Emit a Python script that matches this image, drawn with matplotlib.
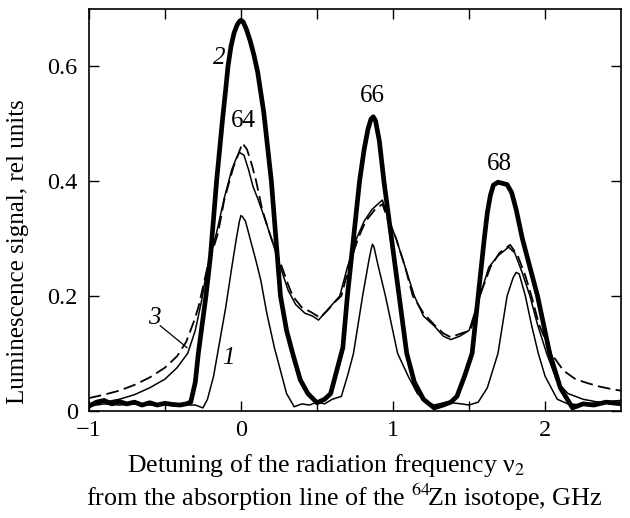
"""
Luminescence signal vs detuning of radiation frequency (Zn isotopes).
"""

import matplotlib
matplotlib.use('Agg')
import matplotlib.pyplot as plt

plt.rcParams['font.family'] = ['Liberation Serif', 'DejaVu Serif']
plt.rcParams['mathtext.fontset'] = 'stix'

# curve 1 - thin, narrow peaks
x1 = [-1.0, -0.9, -0.8, -0.7, -0.6, -0.5, -0.4, -0.3, -0.25, -0.22, -0.18, -0.14, -0.1,
      -0.06, -0.03, -0.01, 0.0, 0.01, 0.03, 0.07, 0.1, 0.13, 0.17, 0.22, 0.26, 0.3, 0.35,
      0.4, 0.45, 0.5, 0.55, 0.6, 0.66, 0.7, 0.74, 0.8, 0.84, 0.855, 0.865, 0.875, 0.9,
      0.95, 0.99, 1.03, 1.1, 1.16, 1.22, 1.27, 1.35, 1.45, 1.5, 1.56, 1.62, 1.69, 1.75,
      1.79, 1.81, 1.83, 1.87, 1.91, 1.955, 2.0, 2.08, 2.15, 2.25, 2.35, 2.5]
y1 = [0.008, 0.012, 0.01, 0.012, 0.01, 0.011, 0.01, 0.01, 0.005, 0.02, 0.06, 0.12, 0.18,
      0.25, 0.3, 0.33, 0.34, 0.338, 0.33, 0.29, 0.26, 0.228, 0.17, 0.11, 0.07, 0.03, 0.007,
      0.012, 0.01, 0.015, 0.012, 0.02, 0.025, 0.06, 0.1, 0.2, 0.26, 0.28, 0.29, 0.285,
      0.255, 0.2, 0.15, 0.1, 0.06, 0.03, 0.015, 0.01, 0.015, 0.012, 0.01, 0.015, 0.04, 0.1,
      0.2, 0.232, 0.241, 0.238, 0.2, 0.15, 0.1, 0.06, 0.02, 0.012, 0.01, 0.015, 0.012]

# curve 2 - thick
x2 = [-1.0, -0.95, -0.9, -0.85, -0.8, -0.75, -0.7, -0.65, -0.6, -0.55, -0.5, -0.45, -0.4,
      -0.36, -0.33, -0.3, -0.28, -0.25, -0.23, -0.2, -0.16, -0.12, -0.1, -0.085, -0.065,
      -0.045, -0.025, -0.01, 0.0, 0.015, 0.035, 0.06, 0.085, 0.11, 0.15, 0.2, 0.23, 0.26,
      0.3, 0.34, 0.39, 0.44, 0.5, 0.55, 0.59, 0.63, 0.67, 0.7, 0.74, 0.78, 0.81, 0.835,
      0.855, 0.87, 0.885, 0.91, 0.94, 0.99, 1.04, 1.09, 1.14, 1.2, 1.27, 1.33, 1.38, 1.42,
      1.47, 1.52, 1.56, 1.6, 1.62, 1.64, 1.66, 1.69, 1.72, 1.75, 1.78, 1.81, 1.85, 1.95,
      2.03, 2.1, 2.18, 2.25, 2.32, 2.4, 2.5]
y2 = [0.008, 0.015, 0.018, 0.012, 0.016, 0.012, 0.015, 0.01, 0.014, 0.01, 0.013, 0.011,
      0.01, 0.012, 0.015, 0.05, 0.1, 0.16, 0.2, 0.27, 0.4, 0.51, 0.56, 0.6, 0.635, 0.658,
      0.672, 0.678, 0.68, 0.677, 0.665, 0.645, 0.62, 0.59, 0.52, 0.4, 0.3, 0.2, 0.14, 0.1,
      0.054, 0.03, 0.014, 0.02, 0.03, 0.07, 0.11, 0.2, 0.3, 0.4, 0.455, 0.49, 0.508, 0.512,
      0.505, 0.47, 0.4, 0.3, 0.2, 0.1, 0.05, 0.02, 0.005, 0.01, 0.015, 0.025, 0.06, 0.1,
      0.2, 0.3, 0.345, 0.375, 0.393, 0.398, 0.396, 0.394, 0.38, 0.35, 0.3, 0.2, 0.1, 0.04,
      0.005, 0.012, 0.01, 0.015, 0.012]

# curve 3 - dashed
x3 = [-1.0, -0.9, -0.8, -0.7, -0.6, -0.5, -0.42, -0.36, -0.31, -0.28, -0.25, -0.22, -0.15,
      -0.11, -0.05, -0.02, 0.01, 0.04, 0.07, 0.1, 0.14, 0.2, 0.27, 0.31, 0.34, 0.4, 0.46,
      0.52, 0.57, 0.62, 0.66, 0.72, 0.77, 0.82, 0.88, 0.93, 0.97, 1.02, 1.08, 1.13, 1.2,
      1.27, 1.33, 1.38, 1.45, 1.51, 1.57, 1.64, 1.7, 1.77, 1.82, 1.87, 1.91, 1.96, 2.04,
      2.12, 2.2, 2.28, 2.36, 2.45, 2.5]
y3 = [0.022, 0.028, 0.035, 0.045, 0.058, 0.075, 0.095, 0.12, 0.155, 0.18, 0.215, 0.25, 0.31,
      0.367, 0.424, 0.445, 0.466, 0.455, 0.43, 0.4, 0.35, 0.3, 0.25, 0.22, 0.2, 0.18, 0.172,
      0.162, 0.175, 0.19, 0.2, 0.26, 0.3, 0.33, 0.35, 0.36, 0.33, 0.3, 0.25, 0.2, 0.17,
      0.15, 0.135, 0.128, 0.135, 0.14, 0.2, 0.25, 0.275, 0.289, 0.27, 0.235, 0.2, 0.15, 0.1,
      0.07, 0.055, 0.048, 0.042, 0.037, 0.035]

# thin curve running with the dashed one
x4 = [-1.0, -0.9, -0.8, -0.7, -0.6, -0.5, -0.42, -0.35, -0.3, -0.26, -0.22, -0.16, -0.11,
      -0.06, -0.03, -0.01, 0.02, 0.05, 0.08, 0.11, 0.15, 0.2, 0.26, 0.31, 0.36, 0.42, 0.47,
      0.51, 0.55, 0.6, 0.65, 0.7, 0.76, 0.81, 0.86, 0.9, 0.93, 0.97, 1.02, 1.08, 1.14, 1.2,
      1.27, 1.33, 1.38, 1.44, 1.5, 1.56, 1.63, 1.69, 1.76, 1.8, 1.85, 1.9, 1.95, 2.01, 2.08,
      2.15, 2.25, 2.35, 2.5]
y4 = [0.01, 0.015, 0.02, 0.028, 0.04, 0.055, 0.075, 0.1, 0.14, 0.19, 0.25, 0.31, 0.37,
      0.42, 0.44, 0.45, 0.445, 0.42, 0.39, 0.37, 0.34, 0.3, 0.25, 0.21, 0.185, 0.17, 0.165,
      0.158, 0.17, 0.185, 0.2, 0.25, 0.3, 0.33, 0.35, 0.36, 0.367, 0.335, 0.3, 0.25, 0.2,
      0.165, 0.148, 0.13, 0.124, 0.13, 0.14, 0.19, 0.25, 0.27, 0.285, 0.275, 0.24, 0.2,
      0.15, 0.1, 0.05, 0.03, 0.02, 0.015, 0.018]

fig = plt.figure(figsize=(6.3, 5.18), dpi=100)
ax = fig.add_axes([0.141, 0.207, 0.845, 0.776])

ax.plot(x4, y4, color='black', lw=1.1)
ax.plot(x3, y3, color='black', lw=1.3, dashes=(7, 3))
ax.plot(x1, y1, color='black', lw=1.1)
ax.plot(x2, y2, color='black', lw=3.4, solid_joinstyle='round')

ax.set_xlim(-1, 2.5)
ax.set_ylim(0, 0.70)
ax.set_xticks([-1, -0.5, 0, 0.5, 1, 1.5, 2])
ax.set_xticklabels(['\u22121', '', '0', '', '1', '', '2'])
ax.set_yticks([0, 0.2, 0.4, 0.6])
ax.set_yticklabels(['0', '0.2', '0.4', '0.6'])
ax.tick_params(direction='in', top=True, right=True, length=7, width=1,
               labelsize=17.5)
ax.tick_params(axis='y', pad=8)
ax.tick_params(axis='x', pad=7)
for s in ax.spines.values():
    s.set_linewidth(1.2)

# annotations on the curves
ax.text(-0.14, 0.615, '2', fontsize=18, style='italic', ha='center', va='center')
ax.text(0.013, 0.505, '64', fontsize=18, ha='center', va='center')
ax.text(0.865, 0.548, '66', fontsize=18, ha='center', va='center')
ax.text(1.70, 0.43, '68', fontsize=18, ha='center', va='center')
ax.text(-0.57, 0.162, '3', fontsize=18, style='italic', ha='center', va='center')
ax.plot([-0.53, -0.355], [0.148, 0.11], color='black', lw=0.9)
ax.text(-0.08, 0.092, '1', fontsize=18, style='italic', ha='center', va='center')

fig.text(0.029, 0.515, 'Luminescence signal, rel units', fontsize=18,
         rotation=90, ha='center', va='center')

fig.text(0.518, 0.102, 'Detuning of the radiation frequency \u03bd$_2$',
         fontsize=18.5, ha='center', va='center')
fig.text(0.547, 0.040, r'from the absorption line of the $^{64}\!$Zn isotope, GHz',
         fontsize=18.8, ha='center', va='center')

plt.savefig('out.png', dpi=100)
